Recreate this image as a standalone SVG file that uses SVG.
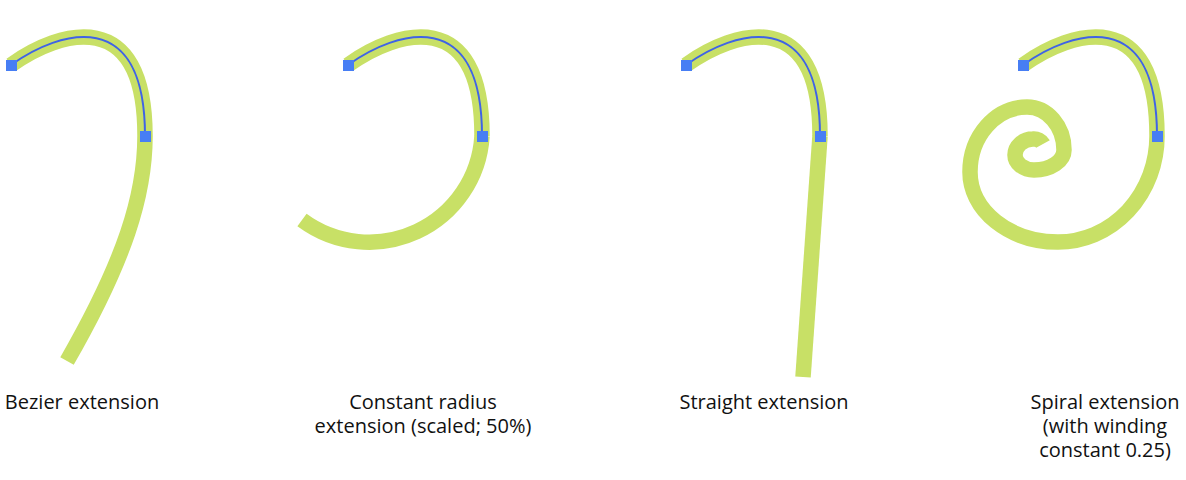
<svg xmlns="http://www.w3.org/2000/svg" xmlns:xlink="http://www.w3.org/1999/xlink" width="1186" height="480" viewBox="0 0 1186 480">
  <style>
    .green { fill: none; stroke: #c8e066; stroke-width: 15.5; stroke-linecap: butt; stroke-linejoin: round; }
    .blue { fill: none; stroke: #3f63e6; stroke-width: 2; }
    .pt { fill: #477ef4; }
    .lbl { font-family: "Open Sans", "Liberation Sans", sans-serif; font-size: 20px; fill: #111; text-anchor: middle; }
  </style>
  <defs>
    <path id="base" d="M 11 65 C 60 30 145 5 145 136"/>
    <g id="pts">
      <rect class="pt" x="6" y="60" width="11" height="11"/>
      <rect class="pt" x="140" y="131" width="11" height="11"/>
    </g>
  </defs>

  <g id="bezier">
    <use xlink:href="#base" class="green"/>
    <path class="green" d="M 145 136 C 145 195 125 260 67 361"/>
    <use xlink:href="#base" class="blue"/>
    <use xlink:href="#pts"/>
    <text class="lbl" x="82" y="409">Bezier extension</text>
  </g>

  <g id="constant-radius">
    <g transform="translate(337,0)">
      <use xlink:href="#base" class="green"/>
    </g>
    <path class="green" d="M 482 136 A 113 113 0 0 1 302 220"/>
    <g transform="translate(337,0)">
      <use xlink:href="#base" class="blue"/>
      <use xlink:href="#pts"/>
    </g>
    <text class="lbl" x="423" y="409">Constant radius</text>
    <text class="lbl" x="423" y="433">extension (scaled; 50%)</text>
  </g>

  <g id="straight">
    <g transform="translate(675,0)">
      <use xlink:href="#base" class="green"/>
    </g>
    <path class="green" d="M 820 136 L 803 377"/>
    <g transform="translate(675,0)">
      <use xlink:href="#base" class="blue"/>
      <use xlink:href="#pts"/>
    </g>
    <text class="lbl" x="764" y="409">Straight extension</text>
  </g>

  <g id="spiral">
    <g transform="translate(1012,0)">
      <use xlink:href="#base" class="green"/>
    </g>
    <path class="green" d="M 1157 136 A 99 106 0 0 1 1058 242 A 88 70 0 0 1 970 172 A 57 65 0 0 1 1027 107 A 37 43 0 0 1 1064 150 A 30 20 0 0 1 1034 170 A 19 15 0 0 1 1015 155 A 18 16 0 0 1 1033 139 A 10 9 0 0 1 1043 144"/>
    <g transform="translate(1012,0)">
      <use xlink:href="#base" class="blue"/>
      <use xlink:href="#pts"/>
    </g>
    <text class="lbl" x="1105" y="409">Spiral extension</text>
    <text class="lbl" x="1105" y="433">(with winding</text>
    <text class="lbl" x="1105" y="457">constant 0.25)</text>
  </g>
</svg>
